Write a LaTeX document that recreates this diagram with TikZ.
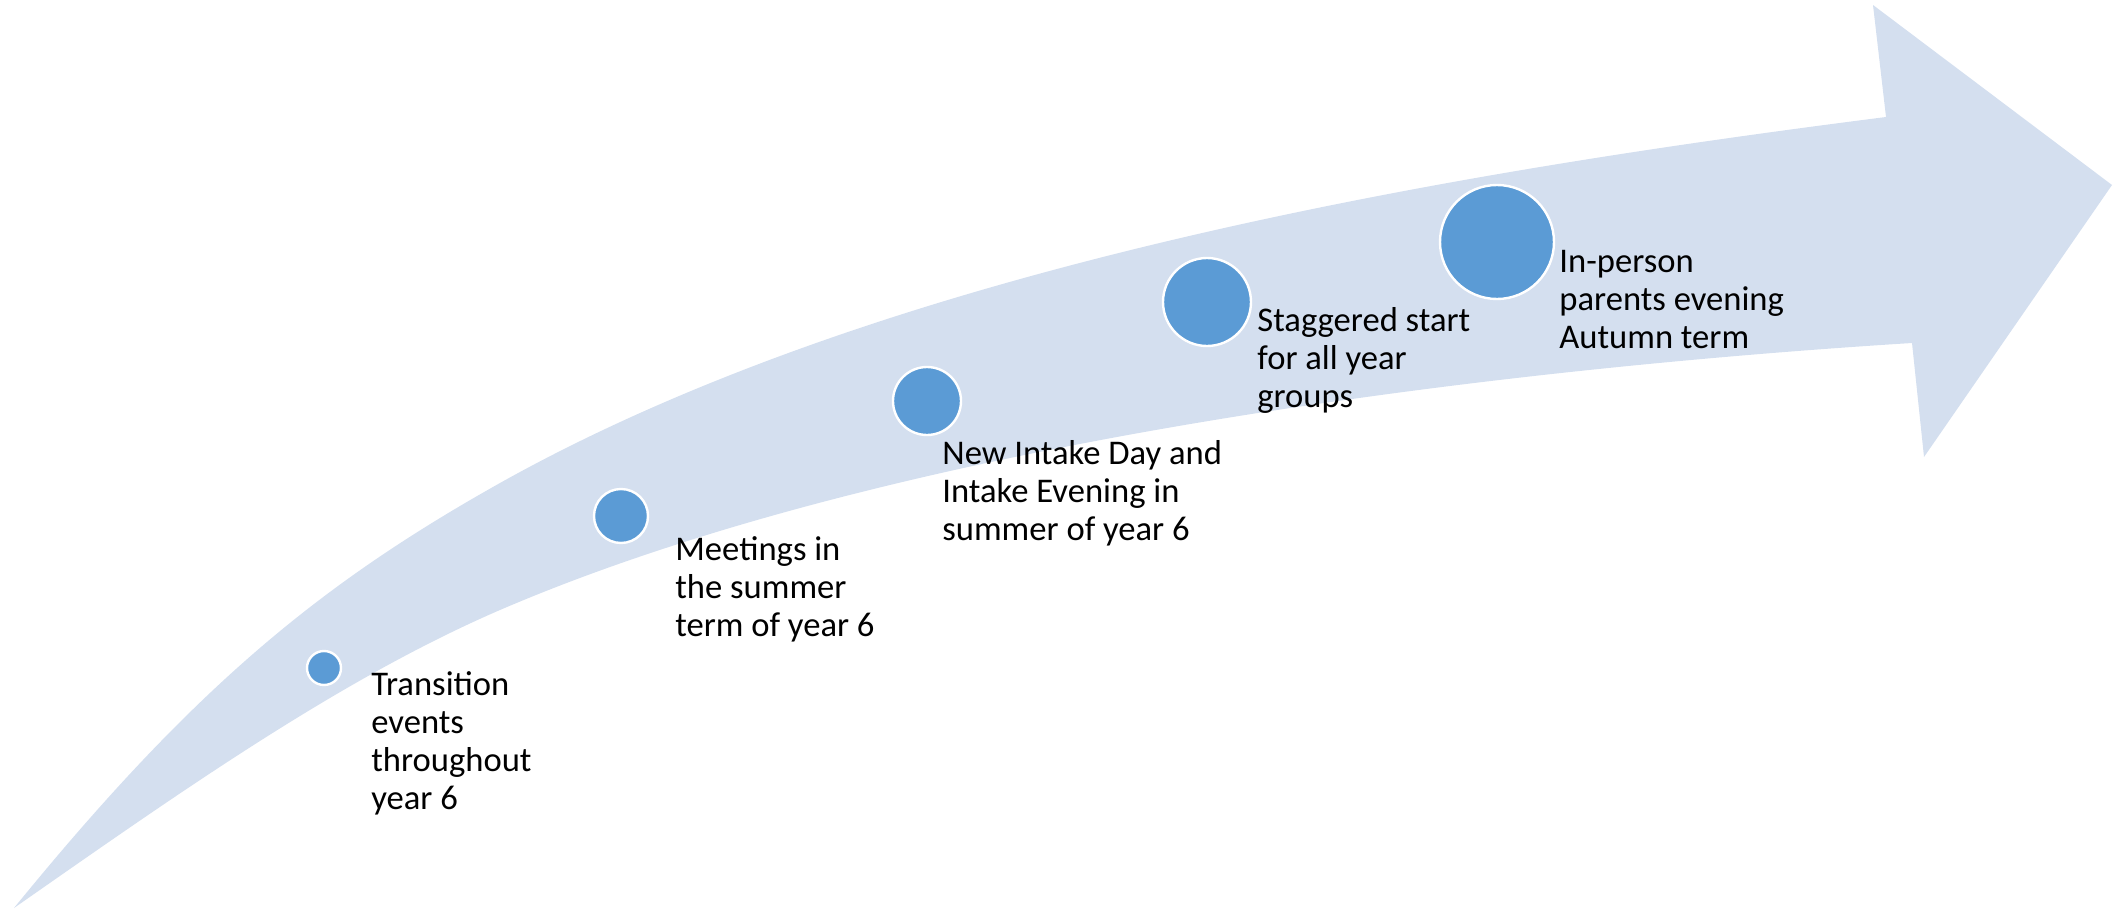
\documentclass[tikz,border=0pt]{standalone}
\usepackage{fontspec}
\setmainfont{Carlito}
\definecolor{bandblue}{HTML}{D4DFEF}
\definecolor{dotblue}{HTML}{5B9BD5}
\newcommand\mylines[1]{\begin{tabular}[t]{@{}l@{}}#1\end{tabular}}
\begin{document}
\begin{tikzpicture}[x=0.5pt,y=-0.5pt,
  band/.style={fill=bandblue},
  dot/.style={circle, fill=dotblue, draw=white, line width=1.2pt, inner sep=0pt},
  lbl/.style={anchor=base west, inner sep=0pt, font=\fontsize{17.3}{19}\selectfont}]
\useasboundingbox (0,0) rectangle (2117,910);
\fill[band] (14,908) .. controls (194,687) and (320,584) .. (500,483)
  .. controls (900,259) and (1486,168) .. (1886,117)
  -- (1873,5) -- (2112,185) -- (1924,457) -- (1912,343)
  .. controls (1512,368) and (900,438) .. (500,610)
  .. controls (338,680) and (176,795) .. (14,908) -- cycle;
\node[dot, minimum size=17pt] (c1) at (324,668) {};
\node[dot, minimum size=27pt] (c2) at (621,516) {};
\node[dot, minimum size=34pt] (c3) at (927,401) {};
\node[dot, minimum size=44pt] (c4) at (1207,302) {};
\node[dot, minimum size=57pt] (c5) at (1497,242) {};
\node[lbl] (t1) at (371,695) {\mylines{Transition\\events\\throughout\\year 6}};
\node[lbl] (t2) at (675,560) {\mylines{Meetings in\\the summer\\term of year 6}};
\node[lbl] (t3) at (942,464) {\mylines{New Intake Day and\\Intake Evening in\\summer of year 6}};
\node[lbl] (t4) at (1257,331) {\mylines{Staggered start\\for all year\\groups}};
\node[lbl] (t5) at (1559,272) {\mylines{In-person\\parents evening\\Autumn term}};
\end{tikzpicture}
\end{document}
